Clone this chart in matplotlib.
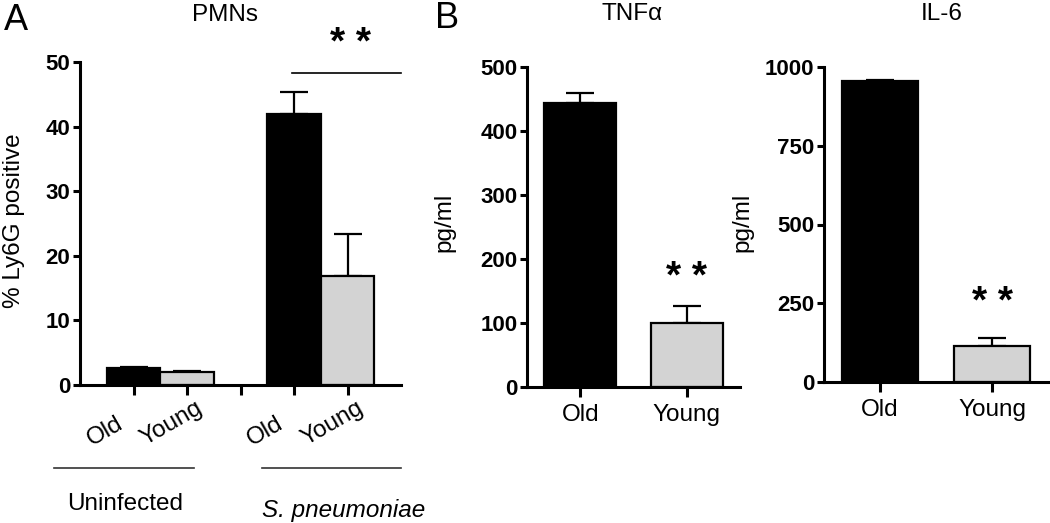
import numpy as np
import matplotlib
matplotlib.use("Agg")
import matplotlib.pyplot as plt
from matplotlib.transforms import ScaledTranslation

plt.rcParams['font.family'] = ['Liberation Sans', 'DejaVu Sans']

# panel A - PMNs
pmn_labels = ["Old", "Young", "", "Old", "Young"]
pmn_mean = [2.7, 2.0, 0, 41.9, 16.9]
pmn_sem = [0.1, 0.1, 0, 3.5, 6.5]
pmn_colors = ["black", "#d3d3d3", "white", "black", "#d3d3d3"]
group_names = ["Uninfected", "S. pneumoniae"]

# panel B - cytokines
cyto_labels = ["Old", "Young"]
tnf_mean = [444, 100.5]
tnf_sem = [16, 26]
il6_mean = [955, 115]
il6_sem = [4, 24]
cyto_colors = ["black", "#d3d3d3"]

W, H = 1050, 523
fig = plt.figure(figsize=(W / 100, H / 100), dpi=100)
LAB = 17.5


def ax_px(left, right, top, bottom):
    return fig.add_axes([left / W, 1 - bottom / H, (right - left) / W, (bottom - top) / H])


def style(ax):
    for s in ["top", "right"]:
        ax.spines[s].set_visible(False)
    for s in ["left", "bottom"]:
        ax.spines[s].set_linewidth(2.2)
    ax.tick_params(axis="y", width=2.2, length=5, labelsize=16, pad=2)
    ax.tick_params(axis="x", width=2.2, length=7, labelsize=LAB, pad=5)
    for t in ax.get_yticklabels():
        t.set_fontweight("bold")


def draw_bars(ax, means, sems, colors, width):
    x = np.arange(len(means))
    edges = ["black" if m > 0 else "none" for m in means]
    ax.bar(x, means, width=width, color=colors, edgecolor=edges, linewidth=1.6, zorder=2)
    for xi, m, e in zip(x, means, sems):
        if m > 0:
            ax.errorbar(xi, m, yerr=[[0], [e]], fmt="none", ecolor="black",
                        elinewidth=1.6, capsize=10, capthick=1.6, zorder=1)
    return x


# ---- A
axA = ax_px(80, 401, 62, 385)
xA = draw_bars(axA, pmn_mean, pmn_sem, pmn_colors, 1.0)
axA.set_xlim(-1, 5)
axA.set_ylim(0, 50)
axA.set_yticks([0, 10, 20, 30, 40, 50])
axA.set_xticks(xA)
style(axA)
axA.tick_params(axis="x", pad=37)
axA.set_xticklabels(pmn_labels, rotation=30, ha="left", va="baseline", rotation_mode="anchor")
shift = ScaledTranslation(-42 / 100, 0, fig.dpi_scale_trans)
for t in axA.get_xticklabels():
    t.set_transform(t.get_transform() + shift)
axA.set_ylabel("% Ly6G positive", fontsize=LAB)
axA.yaxis.set_label_coords(-0.171, 0.51)
# significance bar
axA.plot([2.96, 5.0], [48.3, 48.3], color="black", lw=1.2, clip_on=False)
axA.text(4.05, 52.8, "* *", ha="center", va="center", fontsize=28, fontweight="bold",
         clip_on=False)
# group lines
tr = axA.get_xaxis_transform()
axA.plot([-1.48, 1.14], [-0.257, -0.257], color="#333333", lw=1.2, transform=tr, clip_on=False)
axA.plot([2.4, 5.0], [-0.257, -0.257], color="#333333", lw=1.2, transform=tr, clip_on=False)
axA.text(-0.15, -0.387, group_names[0], transform=tr, ha="center", va="baseline", fontsize=LAB)
axA.text(3.93, -0.409, group_names[1], transform=tr, ha="center", va="baseline",
         fontsize=LAB, style="italic")

# ---- B TNF
axB = ax_px(527, 740, 67, 387)
xB = draw_bars(axB, tnf_mean, tnf_sem, cyto_colors, 0.68)
axB.set_xlim(-0.5, 1.5)
axB.set_ylim(0, 500)
axB.set_yticks([0, 100, 200, 300, 400, 500])
axB.set_xticks(xB)
style(axB)
axB.set_xticklabels(cyto_labels)
axB.set_ylabel("pg/ml", fontsize=LAB)
axB.yaxis.set_label_coords(-0.338, 0.516)
axB.text(1, 170, "* *", ha="center", va="center", fontsize=28, fontweight="bold")

# ---- B IL-6
axC = ax_px(824, 1048, 67, 382)
xC = draw_bars(axC, il6_mean, il6_sem, cyto_colors, 0.68)
axC.set_xlim(-0.5, 1.5)
axC.set_ylim(0, 1000)
axC.set_yticks([0, 250, 500, 750, 1000])
axC.set_xticks(xC)
style(axC)
axC.set_xticklabels(cyto_labels)
axC.set_ylabel("pg/ml", fontsize=LAB)
axC.yaxis.set_label_coords(-0.317, 0.508)
axC.text(1, 250, "* *", ha="center", va="center", fontsize=28, fontweight="bold")

# titles and panel letters
fig.text(225 / W, 1 - 15 / H, "PMNs", ha="center", va="center", fontsize=LAB)
fig.text(632 / W, 1 - 14 / H, "TNF\u03b1", ha="center", va="center", fontsize=LAB)
fig.text(942 / W, 1 - 14 / H, "IL-6", ha="center", va="center", fontsize=LAB)
fig.text(16 / W, 1 - 21 / H, "A", ha="center", va="center", fontsize=26)
fig.text(447 / W, 1 - 18 / H, "B", ha="center", va="center", fontsize=26)

fig.savefig("out.png", dpi=100)
